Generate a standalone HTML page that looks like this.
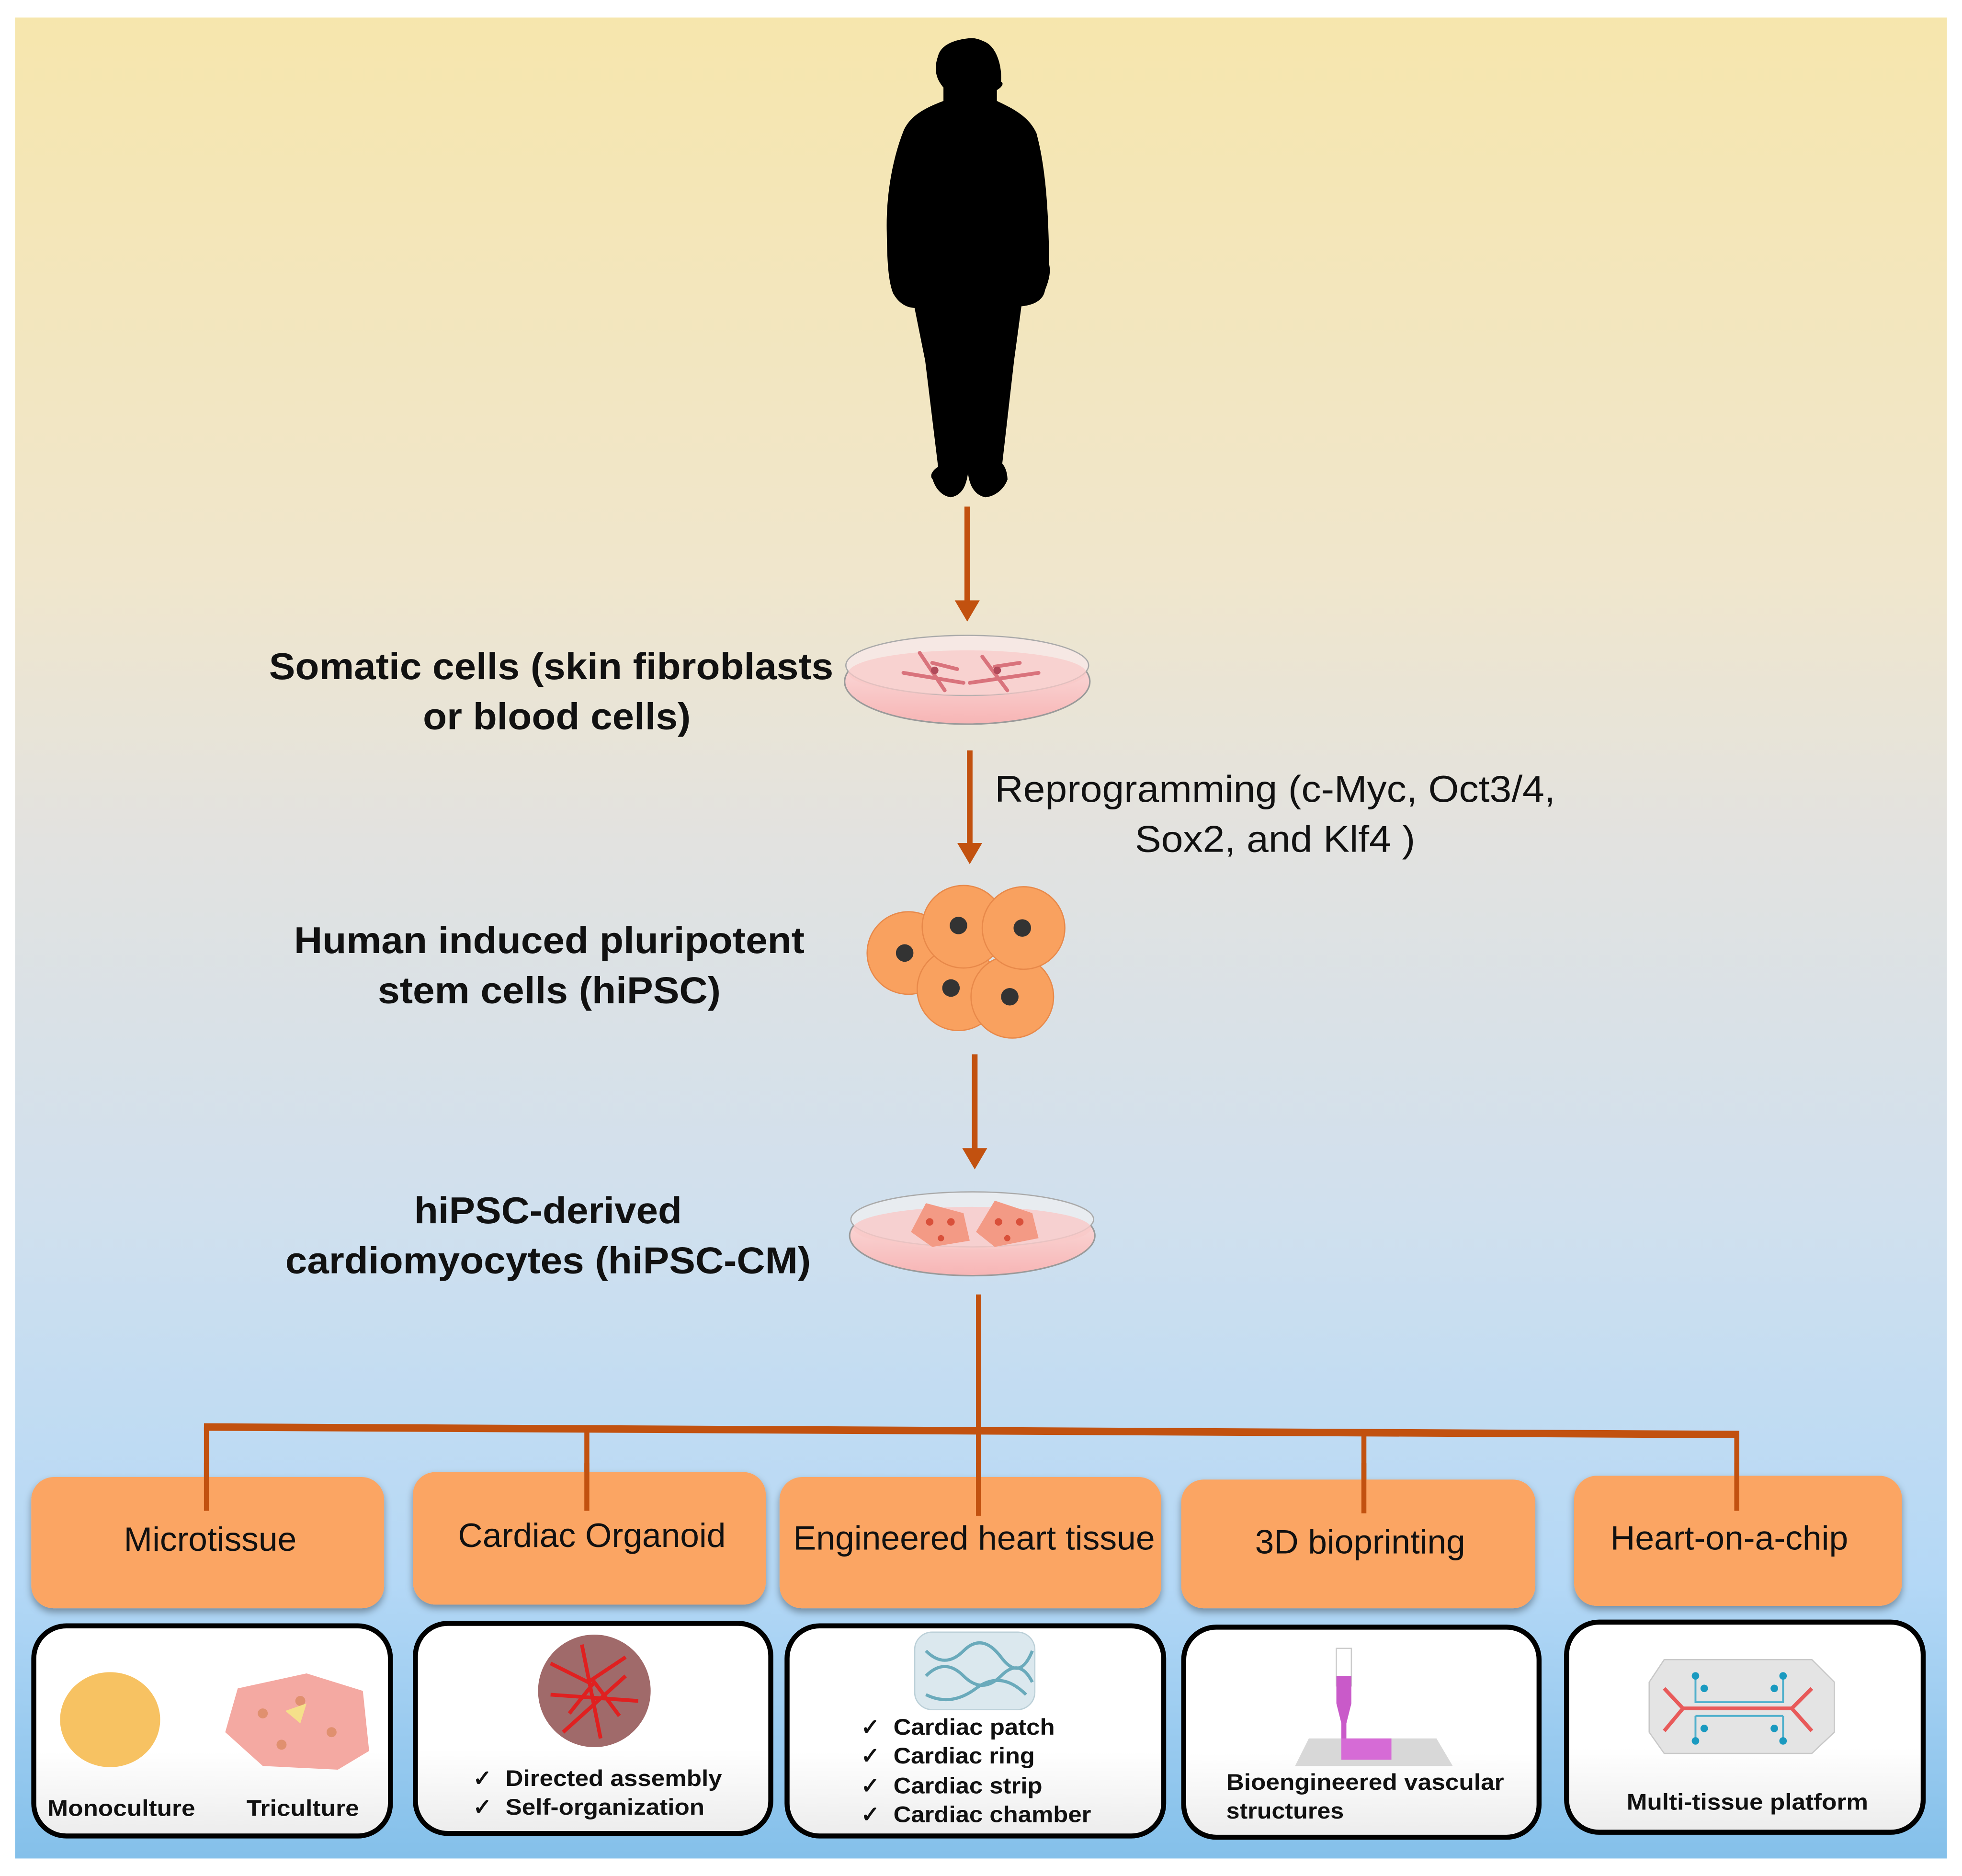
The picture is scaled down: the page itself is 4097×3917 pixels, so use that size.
<!DOCTYPE html>
<html><head><meta charset="utf-8"><style>
html,body{margin:0;padding:0;background:#fff;}
svg{display:block;}
text{font-family:"Liberation Sans",Arial,sans-serif;}
</style></head><body>
<svg width="4097" height="3917" viewBox="0 0 1568 1500" preserveAspectRatio="none" xmlns="http://www.w3.org/2000/svg">
<defs>
<linearGradient id="bg" x1="0" y1="0" x2="0" y2="1">
<stop offset="0" stop-color="#f6e6ad"/>
<stop offset="0.3" stop-color="#f0e6cc"/>
<stop offset="0.45" stop-color="#e2e2e0"/>
<stop offset="0.65" stop-color="#d0e0ee"/>
<stop offset="0.85" stop-color="#b4d8f6"/>
<stop offset="1" stop-color="#84c0ea"/>
</linearGradient>
<linearGradient id="wb" x1="0" y1="0" x2="0" y2="1">
<stop offset="0.6" stop-color="#ffffff"/><stop offset="1" stop-color="#ececec"/>
</linearGradient>
<linearGradient id="dish" x1="0" y1="0" x2="0" y2="1">
<stop offset="0" stop-color="#fbe7e6"/><stop offset="1" stop-color="#f7b5b5"/>
</linearGradient>
<filter id="sh" x="-10%" y="-10%" width="120%" height="130%"><feDropShadow dx="0" dy="3" stdDeviation="3" flood-opacity="0.35"/></filter>
</defs>
<rect x="0" y="0" width="1568" height="1500" fill="#fff"/>
<rect x="12" y="14" width="1544" height="1472" fill="url(#bg)"/>

<!-- person -->
<path fill="#000" d="M773.6,30.7 C762,32 752,36 749.7,44.8 C746,55 748,63 754,70 L754,80.7 C740,86 728,92 722.4,103.8 C712,130 708,160 708.7,185.9 C709,210 710,225 713.8,234.6 C718,242 724,246 730.9,246.2 L739.4,288.5 L749.7,373.2 C744,377 743,381 745.4,383.4 C748,392 754,397 760,397.6 C768,396 772,390 773.6,378.3 C775,390 780,396 787.3,397.6 C796,397 803,390 805.2,383.4 C805,377 803,373 801,370.6 L810.4,288.5 L816.3,244.9 C826,244 834,240 835.1,232.1 C838,225 840,218 838.5,211.6 C838,170 836,135 828.3,106.4 C822,93 810,87 796.7,80.7 L796.7,72 C802,69 802,66 800,65.3 C801,50 795,36 786,33 C782,31 778,30 773.6,30.7 Z"/>

<!-- arrows -->
<g stroke="#c2510f" stroke-width="4.5" fill="#c2510f">
<line x1="773" y1="405" x2="773" y2="482"/>
<line x1="775" y1="600" x2="775" y2="676"/>
<line x1="779" y1="843" x2="779" y2="920"/>
</g>
<g fill="#c2510f">
<polygon points="763,480 783,480 773,497"/>
<polygon points="765,674 785,674 775,691"/>
<polygon points="769,918 789,918 779,935"/>
</g>

<!-- dish 1 -->
<g>
<ellipse cx="773" cy="545" rx="98" ry="34" fill="url(#dish)" stroke="#9a9a9a" stroke-width="1.2"/>
<ellipse cx="773" cy="532" rx="97" ry="24" fill="#f6e8e4" stroke="#aaa" stroke-width="1"/>
<ellipse cx="773" cy="538" rx="95" ry="18" fill="#f9c9c8" opacity="0.7"/>
<g stroke="#d9737c" stroke-width="3" stroke-linecap="round">
<line x1="722" y1="538" x2="770" y2="546"/><line x1="735" y1="522" x2="755" y2="552"/><line x1="745" y1="530" x2="765" y2="535"/>
<line x1="775" y1="546" x2="830" y2="538"/><line x1="785" y1="525" x2="805" y2="552"/><line x1="795" y1="533" x2="815" y2="530"/>
</g>
<circle cx="747" cy="536" r="3" fill="#b14a5a"/><circle cx="797" cy="536" r="3" fill="#b14a5a"/>
</g>

<!-- texts -->
<g font-weight="bold" font-size="30" fill="#111">
<text x="215" y="543" textLength="451" lengthAdjust="spacingAndGlyphs">Somatic cells (skin fibroblasts</text>
<text x="338" y="583" textLength="214" lengthAdjust="spacingAndGlyphs">or blood cells)</text>
<text x="235" y="762" textLength="408" lengthAdjust="spacingAndGlyphs">Human induced pluripotent</text>
<text x="302" y="802" textLength="274" lengthAdjust="spacingAndGlyphs">stem cells (hiPSC)</text>
<text x="331" y="978" textLength="214" lengthAdjust="spacingAndGlyphs">hiPSC-derived</text>
<text x="228" y="1018" textLength="420" lengthAdjust="spacingAndGlyphs">cardiomyocytes (hiPSC-CM)</text>
</g>
<g font-size="30" fill="#111">
<text x="795" y="641" textLength="448" lengthAdjust="spacingAndGlyphs">Reprogramming (c-Myc, Oct3/4,</text>
<text x="907" y="681" textLength="224" lengthAdjust="spacingAndGlyphs">Sox2, and Klf4 )</text>
</g>

<!-- cells -->
<g fill="#f9a15f" stroke="#e8894a" stroke-width="1">
<circle cx="726" cy="762" r="33"/>
<circle cx="766" cy="791" r="33"/>
<circle cx="809" cy="797" r="33"/>
<circle cx="770" cy="741" r="33"/>
<circle cx="818" cy="742" r="33"/>
</g>
<g fill="#333">
<circle cx="723" cy="762" r="7"/><circle cx="766" cy="740" r="7"/><circle cx="817" cy="742" r="7"/><circle cx="760" cy="790" r="7"/><circle cx="807" cy="797" r="7"/>
</g>

<!-- dish 2 -->
<g>
<ellipse cx="777" cy="988" rx="98" ry="32" fill="url(#dish)" stroke="#9a9a9a" stroke-width="1.2"/>
<ellipse cx="777" cy="975" rx="97" ry="22" fill="#e8ecf0" stroke="#aaa" stroke-width="1"/>
<ellipse cx="777" cy="982" rx="95" ry="17" fill="#f9c9c8" opacity="0.8"/>
<g fill="#f39a85">
<polygon points="728,985 740,962 770,970 775,992 745,997"/>
<polygon points="780,985 795,960 825,970 830,990 795,997"/>
</g>
<g fill="#d9503a"><circle cx="743" cy="977" r="3"/><circle cx="760" cy="977" r="3"/><circle cx="798" cy="977" r="3"/><circle cx="815" cy="977" r="3"/><circle cx="752" cy="990" r="2.5"/><circle cx="805" cy="990" r="2.5"/></g>
</g>

<!-- tree connectors -->
<g stroke="#c2510f" stroke-width="4" fill="none">
<line x1="782" y1="1035" x2="782" y2="1210"/>
<line x1="163" y1="1141" x2="1390" y2="1147" stroke-width="6"/>
<line x1="165" y1="1141" x2="165" y2="1208"/>
<line x1="469" y1="1143" x2="469" y2="1208"/>
<line x1="1090" y1="1146" x2="1090" y2="1210"/>
<line x1="1388" y1="1147" x2="1388" y2="1208"/>
</g>

<!-- orange boxes -->
<g fill="#fba563" filter="url(#sh)">
<rect x="25" y="1181" width="282" height="105" rx="18"/>
<rect x="330" y="1177" width="282" height="106" rx="18"/>
<rect x="623" y="1181" width="305" height="105" rx="18"/>
<rect x="944" y="1183" width="283" height="103" rx="18"/>
<rect x="1258" y="1180" width="262" height="104" rx="18"/>
</g>
<g stroke="#c2510f" stroke-width="4">
<line x1="165" y1="1170" x2="165" y2="1208"/>
<line x1="469" y1="1170" x2="469" y2="1208"/>
<line x1="782" y1="1170" x2="782" y2="1212"/>
<line x1="1090" y1="1170" x2="1090" y2="1210"/>
<line x1="1388" y1="1170" x2="1388" y2="1208"/>
</g>
<g font-size="27" fill="#111">
<text x="99" y="1240" textLength="138" lengthAdjust="spacingAndGlyphs">Microtissue</text>
<text x="366" y="1237" textLength="214" lengthAdjust="spacingAndGlyphs">Cardiac Organoid</text>
<text x="634" y="1239" textLength="289" lengthAdjust="spacingAndGlyphs">Engineered heart tissue</text>
<text x="1003" y="1242" textLength="168" lengthAdjust="spacingAndGlyphs">3D bioprinting</text>
<text x="1287" y="1239" textLength="190" lengthAdjust="spacingAndGlyphs">Heart-on-a-chip</text>
</g>

<!-- white boxes -->
<g fill="url(#wb)" stroke="#000" stroke-width="4">
<rect x="27" y="1300" width="285" height="168" rx="26"/>
<rect x="332" y="1298" width="284" height="168" rx="26"/>
<rect x="629" y="1300" width="301" height="168" rx="26"/>
<rect x="946" y="1301" width="284" height="168" rx="26"/>
<rect x="1252" y="1297" width="285" height="168" rx="26"/>
</g>

<!-- box 1 -->
<ellipse cx="88" cy="1375" rx="40" ry="38" fill="#f7c262"/>
<g fill="#f4a9a2">
<polygon points="190,1350 245,1338 290,1352 295,1400 270,1415 210,1412 180,1385"/>
</g>
<g fill="#e0906f"><circle cx="210" cy="1370" r="4"/><circle cx="240" cy="1360" r="4"/><circle cx="265" cy="1385" r="4"/><circle cx="225" cy="1395" r="4"/></g>
<polygon points="228,1368 245,1362 240,1378" fill="#f5e08a"/>
<g font-weight="bold" font-size="18" fill="#111">
<text x="38" y="1452" textLength="118" lengthAdjust="spacingAndGlyphs">Monoculture</text>
<text x="197" y="1452" textLength="90" lengthAdjust="spacingAndGlyphs">Triculture</text>
</g>

<!-- box 2 -->
<circle cx="475" cy="1352" r="45" fill="#a06a6a"/>
<g stroke="#e02020" stroke-width="3" fill="none">
<path d="M440,1330 L470,1345 L500,1325 M455,1370 L475,1345 L495,1372 M440,1355 L510,1360 M465,1315 L480,1390 M450,1385 L500,1340"/>
</g>
<g font-weight="bold" font-size="18" fill="#111">
<text x="378" y="1428">✓</text><text x="404" y="1428" textLength="173" lengthAdjust="spacingAndGlyphs">Directed assembly</text>
<text x="378" y="1451">✓</text><text x="404" y="1451" textLength="159" lengthAdjust="spacingAndGlyphs">Self-organization</text>
</g>

<!-- box 3 -->
<rect x="731" y="1305" width="96" height="62" rx="14" fill="#dbe8ee" stroke="#bcd0d8"/>
<path d="M740,1320 q15,15 30,0 t30,5 t25,-5 M740,1340 q15,-15 30,0 t30,0 t25,5 M740,1355 q20,10 40,-5 t40,5" stroke="#6aaabb" stroke-width="2.5" fill="none"/>
<g font-weight="bold" font-size="18" fill="#111">
<text x="688" y="1387">✓</text><text x="714" y="1387" textLength="129" lengthAdjust="spacingAndGlyphs">Cardiac patch</text>
<text x="688" y="1410">✓</text><text x="714" y="1410" textLength="113" lengthAdjust="spacingAndGlyphs">Cardiac ring</text>
<text x="688" y="1434">✓</text><text x="714" y="1434" textLength="119" lengthAdjust="spacingAndGlyphs">Cardiac strip</text>
<text x="688" y="1457">✓</text><text x="714" y="1457" textLength="158" lengthAdjust="spacingAndGlyphs">Cardiac chamber</text>
</g>

<!-- box 4 -->
<polygon points="1046,1390 1148,1390 1161,1412 1035,1412" fill="#d8d8d8"/>
<rect x="1068" y="1318" width="12" height="30" fill="#ffffff" stroke="#ccc"/>
<path d="M1068,1340 L1080,1340 L1080,1362 L1076,1378 L1076,1402 L1072,1402 L1072,1378 L1068,1362 Z" fill="#c95ac9"/>
<rect x="1072" y="1390" width="40" height="17" fill="#d66bd6"/>
<g font-weight="bold" font-size="18" fill="#111">
<text x="980" y="1431" textLength="222" lengthAdjust="spacingAndGlyphs">Bioengineered vascular</text>
<text x="980" y="1454" textLength="94" lengthAdjust="spacingAndGlyphs">structures</text>
</g>

<!-- box 5 -->
<polygon points="1330,1327 1448,1327 1466,1345 1466,1385 1448,1402 1330,1402 1318,1385 1318,1345" fill="#e4e4e4" stroke="#c8c8c8"/>
<g stroke="#e85a5a" stroke-width="3" fill="none">
<path d="M1330,1350 L1345,1366 L1432,1366 L1448,1350 M1330,1384 L1345,1366 M1432,1366 L1448,1384"/>
</g>
<g stroke="#50b0cc" stroke-width="1.5" fill="none">
<path d="M1355,1340 L1355,1361 L1425,1361 L1425,1340 M1355,1372 L1355,1392 M1425,1372 L1425,1392 M1355,1372 L1425,1372"/>
</g>
<g fill="#1a9ac0"><circle cx="1355" cy="1340" r="3"/><circle cx="1362" cy="1350" r="3"/><circle cx="1425" cy="1340" r="3"/><circle cx="1418" cy="1350" r="3"/><circle cx="1355" cy="1392" r="3"/><circle cx="1362" cy="1382" r="3"/><circle cx="1425" cy="1392" r="3"/><circle cx="1418" cy="1382" r="3"/></g>
<g font-weight="bold" font-size="18" fill="#111">
<text x="1300" y="1447" textLength="193" lengthAdjust="spacingAndGlyphs">Multi-tissue platform</text>
</g>
</svg>
</body></html>
